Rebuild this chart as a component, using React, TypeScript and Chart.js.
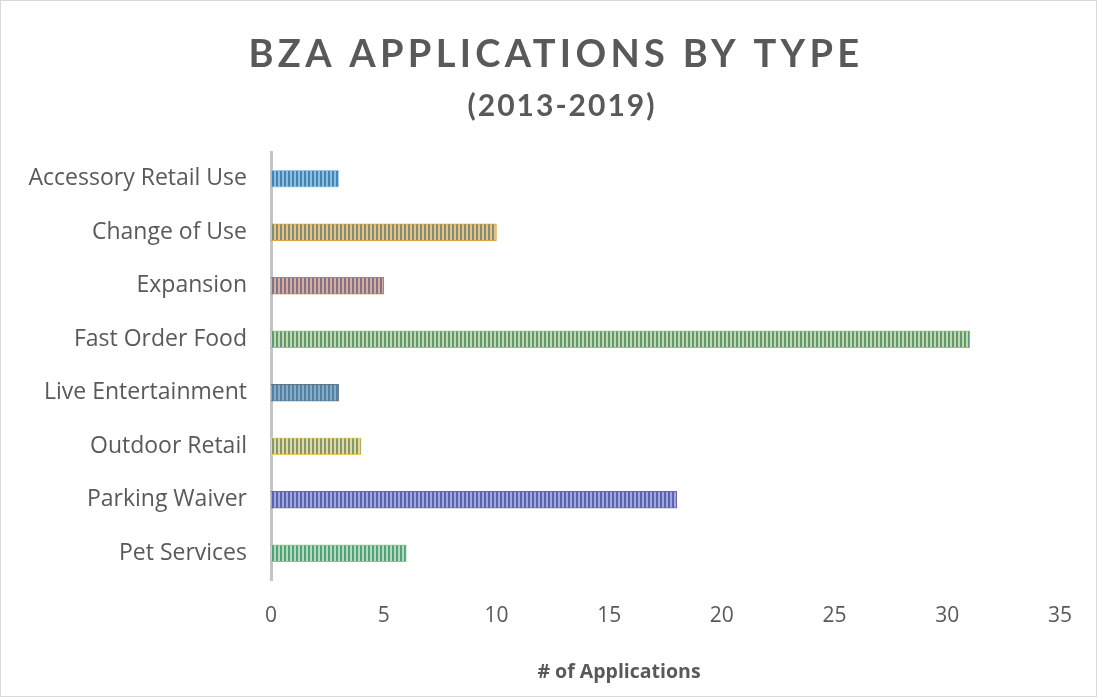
import React, { useEffect, useRef } from "react";
import { Chart, registerables } from "chart.js";

Chart.register(...registerables);

const categories = [
  "Accessory Retail Use",
  "Change of Use",
  "Expansion",
  "Fast Order Food",
  "Live Entertainment",
  "Outdoor Retail",
  "Parking Waiver",
  "Pet Services",
];
const applications = [3, 10, 5, 31, 3, 4, 18, 6];
const stripeDark = ["#3f86b8", "#7f8c78", "#76788f", "#5a9a80", "#4e82a6", "#7a9a80", "#5068b0", "#50a088"];
const stripeLight = ["#92bedc", "#e9c384", "#e2a898", "#c8d8a0", "#8caac2", "#ecd890", "#aaa2da", "#b8dcb0"];
const edgeColors = ["#9cc8e6", "#e0a040", "#d0705a", "#a0c060", "#607888", "#e8c850", "#7060b8", "#88c878"];
const titleText = "BZA APPLICATIONS BY TYPE";
const subtitleText = "(2013-2019)";
const xTitle = "# of Applications";

const FONT = "'Open Sans', Lato, sans-serif";
const TITLE_FONT = "Lato, 'Open Sans', sans-serif";
const TEXT = "#595959";

function makePattern(dark: string, light: string): CanvasPattern | string {
  const c = document.createElement("canvas");
  c.width = 4;
  c.height = 4;
  const ctx = c.getContext("2d");
  if (!ctx) return dark;
  ctx.fillStyle = light;
  ctx.fillRect(0, 0, 4, 4);
  ctx.fillStyle = dark;
  ctx.fillRect(0, 0, 2, 4);
  const p = ctx.createPattern(c, "repeat");
  return p || dark;
}

const titlePlugin = {
  id: "spacedTitle",
  afterDraw(chart: any) {
    const ctx = chart.ctx as CanvasRenderingContext2D;
    ctx.save();
    ctx.fillStyle = TEXT;
    ctx.textAlign = "center";
    ctx.textBaseline = "alphabetic";
    (ctx as any).letterSpacing = "4.3px";
    ctx.font = `bold 38px ${TITLE_FONT}`;
    ctx.fillText(titleText, 556, 67);
    (ctx as any).letterSpacing = "2px";
    ctx.font = `bold 30px ${TITLE_FONT}`;
    ctx.fillText(subtitleText, 562, 116);
    (ctx as any).letterSpacing = "0px";
    ctx.textBaseline = "middle";
    ctx.font = `bold 19.5px ${FONT}`;
    ctx.fillText(xTitle, 619, 672);
    ctx.restore();
  },
};

export default function App() {
  const ref = useRef<HTMLCanvasElement>(null);
  useEffect(() => {
    if (!ref.current) return;
    const patterns = categories.map((_, i) => makePattern(stripeDark[i], stripeLight[i]));
    const chart = new Chart(ref.current, {
      type: "bar",
      data: {
        labels: categories,
        datasets: [
          {
            data: applications,
            backgroundColor: patterns as any,
            borderColor: edgeColors,
            borderWidth: 1,
            borderSkipped: "start",
            barThickness: 17,
          },
        ],
      },
      options: {
        indexAxis: "y",
        animation: false,
        responsive: false,
        maintainAspectRatio: false,
        layout: { padding: { top: 152, right: 37, left: 0, bottom: 0 } },
        plugins: {
          legend: { display: false },
          tooltip: { enabled: false },
          title: { display: false },
        },
        scales: {
          x: {
            min: 0,
            max: 35,
            ticks: { stepSize: 5, color: TEXT, font: { family: FONT, size: 21 }, padding: 23 },
            grid: { display: false, drawTicks: false },
            border: { display: false },
            title: { display: false },
            afterFit: (s: any) => {
              s.height = 117;
            },
          },
          y: {
            z: 1,
            ticks: { color: TEXT, font: { family: FONT, size: 23 }, padding: 24 },
            grid: { display: false, drawTicks: false },
            border: { display: true, color: "#c4c4c4", width: 3 },
            afterFit: (s: any) => {
              s.width = 271;
            },
          },
        },
      },
      plugins: [titlePlugin],
    });
    return () => chart.destroy();
  }, []);
  return (
    <div
      style={{
        position: "fixed",
        left: 0,
        top: 0,
        width: 1097,
        height: 697,
        background: "#ffffff",
      }}
    >
      <canvas ref={ref} width={1097} height={697} style={{ display: "block" }} />
      <div
        style={{
          position: "absolute",
          left: 0,
          top: 0,
          width: 1095,
          height: 695,
          border: "1px solid #d9d9d9",
          pointerEvents: "none",
        }}
      />
    </div>
  );
}
